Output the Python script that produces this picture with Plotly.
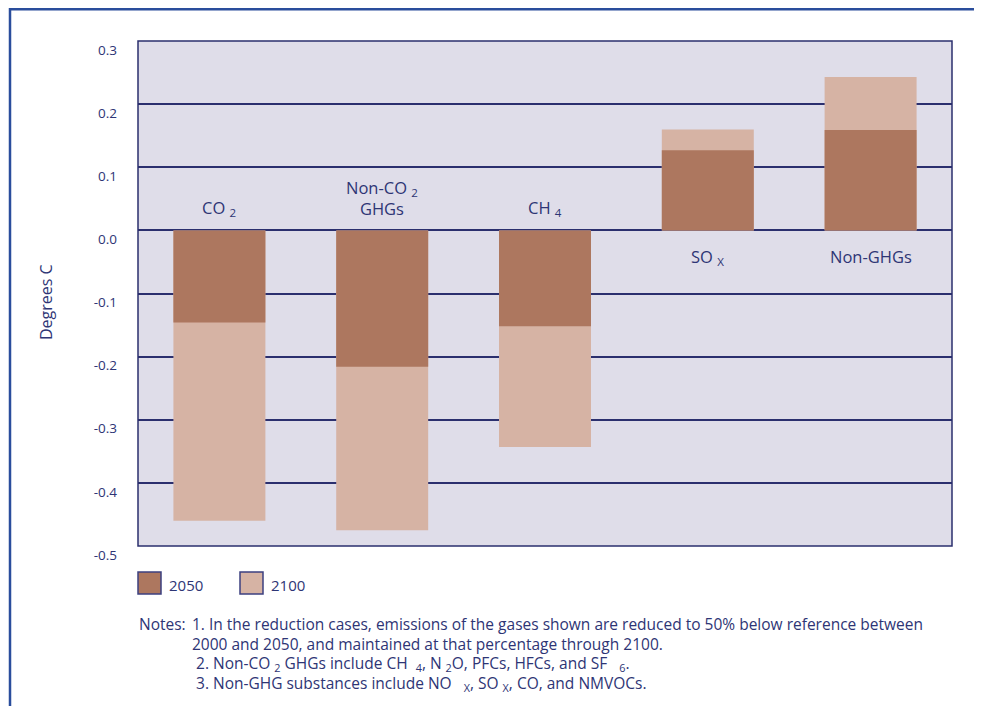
import plotly.graph_objects as go

categories = ["CO2", "Non-CO2 GHGs", "CH4", "SOx", "Non-GHGs"]
cat_labels = ["CO <sub>2</sub>", "Non-CO <sub>2</sub><br>GHGs", "CH <sub>4</sub>", "SO <sub>X</sub>", "Non-GHGs"]
values_2050 = [-0.146, -0.216, -0.152, 0.127, 0.159]
values_2100 = [-0.460, -0.475, -0.343, 0.160, 0.243]
y_ticks = [0.3, 0.2, 0.1, 0.0, -0.1, -0.2, -0.3, -0.4, -0.5]
y_tick_labels = ["0.3", "0.2", "0.1", "0.0", "-0.1", "-0.2", "-0.3", "-0.4", "-0.5"]
notes = [
    "1. In the reduction cases, emissions of the gases shown are reduced to 50% below reference between",
    "2000 and 2050, and maintained at that percentage through 2100.",
    " 2. Non-CO <sub>2</sub> GHGs include CH  <sub>4</sub>, N <sub>2</sub>O, PFCs, HFCs, and SF   <sub>6</sub>.",
    " 3. Non-GHG substances include NO   <sub>X</sub>, SO <sub>X</sub>, CO, and NMVOCs.",
]

C2050 = "#ad775f"
C2100 = "#d6b3a4"
TXT = "#2e3575"
NAVY = "#2b2f6e"
FONT = "Open Sans"

# page is offset by the 8px body margin
OFF = 8
W, H = 982 - OFF, 706 - OFF
ML, MR, MT, MB = 138 - OFF, 30, 41 - OFF, 160
PW, PH = W - ML - MR, H - MT - MB


def px(x):
    return (x - OFF - ML) / PW


def py(y):
    return (H - MB - (y - OFF)) / PH


fig = go.Figure()
fig.add_trace(go.Bar(x=categories, y=values_2100, name="2100", marker_color=C2100,
                     marker_line_width=0, width=0.565))
fig.add_trace(go.Bar(x=categories, y=values_2050, name="2050", marker_color=C2050,
                     marker_line_width=0, width=0.565))

annotations = []
for cat, lab, v in zip(categories, cat_labels, values_2050):
    if v < 0:
        annotations.append(dict(x=cat, y=0, xref="x", yref="y", text=lab, showarrow=False,
                                xanchor="center", yanchor="bottom", yshift=8,
                                font=dict(size=16.5, color=TXT, family=FONT)))
    else:
        annotations.append(dict(x=cat, y=0, xref="x", yref="y", text=lab, showarrow=False,
                                xanchor="center", yanchor="top", yshift=-13,
                                font=dict(size=16.5, color=TXT, family=FONT)))

annotations.append(dict(x=px(46), y=py(302), xref="paper", yref="paper", text="Degrees C",
                        xanchor="center", yanchor="middle",
                        textangle=-90, showarrow=False, font=dict(size=16, color=TXT, family=FONT)))

# legend
for x0, lab in [(138, "2050"), (240, "2100")]:
    annotations.append(dict(x=px(x0 + 29), y=py(585), xref="paper", yref="paper", text=lab,
                            xanchor="left", yanchor="middle", showarrow=False,
                            font=dict(size=15, color=TXT, family=FONT)))

annotations.append(dict(x=px(137), y=py(624), xref="paper", yref="paper", text="Notes:",
                        xanchor="left", yanchor="middle", showarrow=False,
                        font=dict(size=15.5, color=TXT, family=FONT)))
for i, line in enumerate(notes):
    annotations.append(dict(x=px(190), y=py(624 + 19.7 * i), xref="paper", yref="paper", text=line,
                            xanchor="left", yanchor="middle", showarrow=False,
                            font=dict(size=15.5, color=TXT, family=FONT)))

shapes = [
    dict(type="rect", xref="paper", yref="paper", x0=0, x1=1, y0=0, y1=1,
         line=dict(color=NAVY, width=1.5), layer="above"),
    dict(type="line", xref="paper", yref="paper", x0=px(9), x1=px(990), y0=py(9.2), y1=py(9.2),
         line=dict(color="#2a4d9c", width=2.5)),
    dict(type="line", xref="paper", yref="paper", x0=px(10), x1=px(10), y0=py(8), y1=py(712),
         line=dict(color="#2a4d9c", width=2.5)),
]
for x0, col in [(138, C2050), (240, C2100)]:
    shapes.append(dict(type="rect", xref="paper", yref="paper", x0=px(x0), x1=px(x0 + 23),
                       y0=py(572), y1=py(594), fillcolor=col, line=dict(color="#3d4080", width=1.5)))

fig.update_layout(
    width=W, height=H,
    margin=dict(l=ML, r=MR, t=MT, b=MB, pad=0),
    barmode="overlay",
    showlegend=False,
    paper_bgcolor="white",
    plot_bgcolor="#dfdde9",
    font=dict(family=FONT, color=TXT),
    annotations=annotations,
    shapes=shapes,
    xaxis=dict(showticklabels=False, showgrid=False, zeroline=False, showline=False, ticks=""),
    yaxis=dict(range=[-0.5, 0.3], tickvals=y_ticks, ticktext=y_tick_labels,
               showgrid=True, gridcolor=NAVY, gridwidth=1.5, zeroline=False, showline=False,
               ticks="", ticklabelstandoff=20, ticklabelshift=9,
               tickfont=dict(size=13.5, color=TXT, family=FONT)),
)

fig.write_html("out.html")
